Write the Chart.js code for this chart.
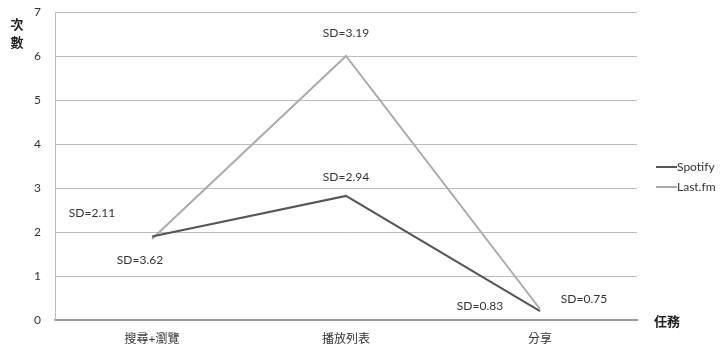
<!DOCTYPE html>
<html>
<head>
<meta charset="utf-8">
<script src="https://cdn.jsdelivr.net/npm/chart.js@4.4.1/dist/chart.umd.min.js"></script>
<style>
  html, body { margin: 0; padding: 0; background: #fff; }
  #wrap { width: 723px; height: 350px; }
</style>
</head>
<body>
<div id="wrap"><canvas id="tareas" width="723" height="350"></canvas></div>
<script>
// categorías y series
let tareas = ["搜尋+瀏覽", "播放列表", "分享"];
let spotify = [1.9, 2.82, 0.2];
let lastfm = [1.84, 6.0, 0.25];
let yTicks = [0, 1, 2, 3, 4, 5, 6, 7];

// etiquetas SD: serie, índice, texto, desplazamiento en px
let etiquetasSD = [
  { serie: 1, i: 0, texto: "SD=2.11", dx: -60, dy: -26 },
  { serie: 0, i: 0, texto: "SD=3.62", dx: -12, dy: 24 },
  { serie: 1, i: 1, texto: "SD=3.19", dx: 0, dy: -23 },
  { serie: 0, i: 1, texto: "SD=2.94", dx: 0, dy: -19 },
  { serie: 0, i: 2, texto: "SD=0.83", dx: -60, dy: -5 },
  { serie: 1, i: 2, texto: "SD=0.75", dx: 44, dy: -10 }
];

const FUENTE = "Lato, 'Noto Sans CJK TC', sans-serif";

const extras = {
  id: "extras",
  afterDatasetsDraw(chart) {
    const ctx = chart.ctx;
    const x = chart.scales.x, y = chart.scales.y;
    ctx.save();
    ctx.font = "12px " + FUENTE;
    ctx.fillStyle = "#333";
    ctx.textAlign = "center";
    ctx.textBaseline = "middle";
    etiquetasSD.forEach(e => {
      let v = chart.data.datasets[e.serie].data[e.i];
      ctx.fillText(e.texto, x.getPixelForValue(e.i) + e.dx, y.getPixelForValue(v) + e.dy);
    });

    // títulos de ejes
    ctx.font = "bold 13px 'Noto Sans CJK TC', sans-serif";
    ctx.fillStyle = "#222";
    ctx.fillText("次", 17, 24);
    ctx.fillText("數", 17, 42);
    ctx.textAlign = "left";
    ctx.fillText("任務", 654, y.getPixelForValue(0) + 1);

    // leyenda
    ctx.font = "12px " + FUENTE;
    ctx.textBaseline = "middle";
    chart.data.datasets.forEach((ds, k) => {
      let ly = 167 + k * 20;
      ctx.strokeStyle = ds.borderColor;
      ctx.lineWidth = 2;
      ctx.beginPath();
      ctx.moveTo(656, ly);
      ctx.lineTo(677, ly);
      ctx.stroke();
      ctx.fillStyle = "#333";
      ctx.fillText(ds.label, 677, ly);
    });
    ctx.restore();
  }
};

let chartT = new Chart(document.getElementById("tareas").getContext("2d"), {
  type: "line",
  data: {
    labels: tareas,
    datasets: [
      { label: "Spotify", data: spotify, borderColor: "#555", borderWidth: 2, pointRadius: 0, tension: 0 },
      { label: "Last.fm", data: lastfm, borderColor: "#aaa", borderWidth: 2, pointRadius: 0, tension: 0 }
    ]
  },
  options: {
    responsive: false,
    animation: false,
    layout: { padding: { top: 12, right: 86, left: 0, bottom: 0 } },
    plugins: {
      legend: { display: false },
      tooltip: { enabled: false }
    },
    scales: {
      x: {
        offset: true,
        grid: { display: false },
        border: { display: true, color: "#999", width: 2 },
        ticks: { color: "#333", font: { size: 12, family: FUENTE }, padding: 4 },
        afterFit: s => { s.height = 30; }
      },
      y: {
        min: 0,
        max: 7,
        afterBuildTicks: s => { s.ticks = yTicks.map(v => ({ value: v })); },
        grid: { color: "#bbb", drawTicks: false },
        border: { display: true, color: "#bbb" },
        ticks: { color: "#333", font: { size: 12, family: FUENTE }, padding: 14 },
        afterFit: s => { s.width = 55; s.paddingTop = 0; s.paddingBottom = 0; }
      }
    }
  },
  plugins: [extras]
});
</script>
</body>
</html>
